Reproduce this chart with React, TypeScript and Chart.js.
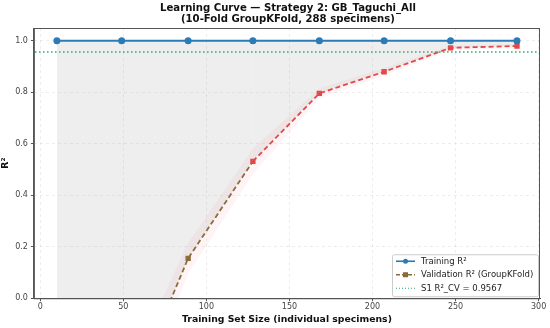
import React, { useEffect, useRef } from "react";
import { Chart, registerables } from "chart.js";

Chart.register(...registerables);

const trainSizes = [10, 49, 89, 128, 168, 207, 247, 287];
const trainR2 = [1.0, 1.0, 1.0, 1.0, 1.0, 1.0, 1.0, 1.0];
const valR2 = [-1.5, -0.46, 0.155, 0.532, 0.796, 0.88, 0.973, 0.98];
const valStd = [0.3, 0.12, 0.06, 0.05, 0.02, 0.015, 0.008, 0.008];
const s1Value = 0.9567;
const xTicks = [0, 50, 100, 150, 200, 250, 300];
const yTicks = [0, 0.2, 0.4, 0.6, 0.8, 1.0];
const titleLines = ["Learning Curve — Strategy 2: GB_Taguchi_All", "(10-Fold GroupKFold, 288 specimens)"];
const xTitle = "Training Set Size (individual specimens)";

const BLUE = "#2b7bb6";
const RED = "#e84545";
const BROWN = "#8c6a38";
const GREEN = "#2aa673";
const GRAY_FILL = "rgba(140,140,140,0.15)";
const BAND_FILL = "rgba(240,90,120,0.07)";
const FONT = "'DejaVu Sans', sans-serif";

function fitSize(text: string, target: number) {
  const c = document.createElement("canvas").getContext("2d")!;
  c.font = `bold 10px ${FONT}`;
  const w = c.measureText(text).width;
  return w > 0 ? (10 * target) / w : 10;
}

const framePlugin = {
  id: "frame",
  afterDraw(chart: any) {
    const { ctx, chartArea: a } = chart;
    ctx.save();
    ctx.strokeStyle = "#555";
    ctx.lineWidth = 1;
    ctx.strokeRect(a.left + 0.5, a.top + 0.5, a.right - a.left - 1, a.bottom - a.top);
    // title
    const ts = fitSize(titleLines[0], 256);
    ctx.font = `bold ${ts}px ${FONT}`;
    ctx.fillStyle = "#111";
    ctx.textAlign = "center";
    ctx.textBaseline = "middle";
    const cx = (a.left + a.right) / 2 + 1;
    ctx.fillText(titleLines[0], cx, 8);
    ctx.fillText(titleLines[1], cx, 19);
    // legend
    ctx.textAlign = "left";
    const bx = a.right - 148, by = a.bottom - 44, bw = 146, bh = 42;
    ctx.fillStyle = "rgba(255,255,255,0.85)";
    ctx.strokeStyle = "#cccccc";
    ctx.beginPath();
    (ctx as any).roundRect(bx + 0.5, by + 0.5, bw, bh, 2);
    ctx.fill();
    ctx.stroke();
    const items = [
      { label: "Training R²", color: BLUE, dash: [], marker: "circle" },
      { label: "Validation R² (GroupKFold)", color: BROWN, dash: [4, 2], marker: "square" },
      { label: "S1 R²_CV = 0.9567", color: GREEN, dash: [1, 2], marker: "" },
    ];
    ctx.font = `8.5px ${FONT}`;
    items.forEach((it, i) => {
      const y = by + 7 + i * 13.5;
      const x0 = bx + 4, x1 = bx + 23;
      ctx.strokeStyle = it.color;
      ctx.lineWidth = it.marker ? 1.6 : 1.2;
      ctx.setLineDash(it.dash);
      ctx.beginPath();
      ctx.moveTo(x0, y);
      ctx.lineTo(x1, y);
      ctx.stroke();
      ctx.setLineDash([]);
      ctx.fillStyle = it.color;
      const mx = (x0 + x1) / 2;
      if (it.marker === "circle") {
        ctx.beginPath();
        ctx.arc(mx, y, 2.5, 0, Math.PI * 2);
        ctx.fill();
      } else if (it.marker === "square") {
        ctx.fillRect(mx - 2.5, y - 2.5, 5, 5);
      }
      ctx.fillStyle = "#222";
      ctx.fillText(it.label, bx + 29, y + 0.5);
    });
    ctx.restore();
  },
};

export default function App() {
  const ref = useRef<HTMLCanvasElement>(null);
  useEffect(() => {
    document.body.style.margin = "0";
    const bandUpper = valR2.map((v, i) => ({ x: trainSizes[i], y: v + valStd[i] }));
    const bandLower = valR2.map((v, i) => ({ x: trainSizes[i], y: v - valStd[i] }));
    const xTitleSize = fitSize(xTitle, 210);
    const chart = new Chart(ref.current!, {
      type: "line",
      data: {
        datasets: [
          {
            label: "S1",
            data: [{ x: -20, y: s1Value }, { x: 320, y: s1Value }],
            borderColor: GREEN,
            borderWidth: 1.3,
            borderDash: [1.5, 2.5],
            pointRadius: 0,
            fill: false,
            tension: 0,
            order: 0,
          },
          {
            label: "Training R²",
            data: trainSizes.map((x, i) => ({ x, y: trainR2[i] })),
            borderColor: BLUE,
            backgroundColor: GRAY_FILL,
            borderWidth: 2,
            pointRadius: 3.5,
            pointBackgroundColor: BLUE,
            pointBorderColor: BLUE,
            pointBorderWidth: 0,
            fill: { target: 2, above: GRAY_FILL, below: GRAY_FILL },
            tension: 0,
            order: 1,
          } as any,
          {
            label: "Validation R² (GroupKFold)",
            data: trainSizes.map((x, i) => ({ x, y: valR2[i] })),
            borderColor: RED,
            backgroundColor: RED,
            borderWidth: 1.8,
            borderDash: [5, 3],
            pointStyle: "rect",
            pointRadius: 3.8,
            pointBorderWidth: 0,
            pointBackgroundColor: valR2.map((_, i) => (i <= 2 ? BROWN : RED)),
            segment: {
              borderColor: (c: any) => (c.p1DataIndex <= 3 ? BROWN : RED),
            },
            fill: false,
            tension: 0,
            order: 2,
          } as any,
          {
            label: "bandU",
            data: bandUpper,
            borderWidth: 0,
            borderColor: "rgba(0,0,0,0)",
            pointRadius: 0,
            backgroundColor: BAND_FILL,
            fill: { target: "+1", above: BAND_FILL, below: BAND_FILL },
            tension: 0,
            order: 3,
          } as any,
          {
            label: "bandL",
            data: bandLower,
            borderWidth: 0,
            borderColor: "rgba(0,0,0,0)",
            pointRadius: 0,
            fill: false,
            tension: 0,
            order: 4,
          },
        ],
      },
      options: {
        animation: false,
        responsive: false,
        layout: { padding: { left: 0, right: 10, top: 28, bottom: 0 } },
        plugins: {
          legend: { display: false },
          tooltip: { enabled: false },
          title: { display: false },
        },
        scales: {
          x: {
            type: "linear",
            min: -3.85,
            max: 300.85,
            afterBuildTicks: (s: any) => {
              s.ticks = xTicks.map((v) => ({ value: v }));
            },
            ticks: { font: { family: FONT, size: 8 }, color: "#444", padding: 1, maxRotation: 0 },
            grid: { color: "rgba(0,0,0,0.07)", tickLength: 3, tickColor: "#555" },
            border: { color: "#555", dash: [3, 3] },
            title: {
              display: true,
              text: xTitle,
              font: { family: FONT, size: xTitleSize, weight: "bold" },
              color: "#111",
              padding: { top: 1, bottom: 3 },
            },
          },
          y: {
            type: "linear",
            min: 0,
            max: 1.05,
            afterBuildTicks: (s: any) => {
              s.ticks = yTicks.map((v) => ({ value: v }));
            },
            ticks: {
              font: { family: FONT, size: 8 },
              color: "#444",
              padding: 3,
              callback: (v: any) => Number(v).toFixed(1),
            },
            grid: { color: "rgba(0,0,0,0.07)", tickLength: 3, tickColor: "#555" },
            border: { color: "#555", dash: [3, 3] },
            title: {
              display: true,
              text: "R²",
              font: { family: FONT, size: xTitleSize, weight: "bold" },
              color: "#111",
              padding: { top: 0, bottom: 1 },
            },
          },
        },
      },
      plugins: [framePlugin],
    } as any);
    return () => chart.destroy();
  }, []);
  return (
    <div style={{ width: 550, height: 328 }}>
      <canvas ref={ref} width={550} height={328} style={{ display: "block" }} />
    </div>
  );
}
